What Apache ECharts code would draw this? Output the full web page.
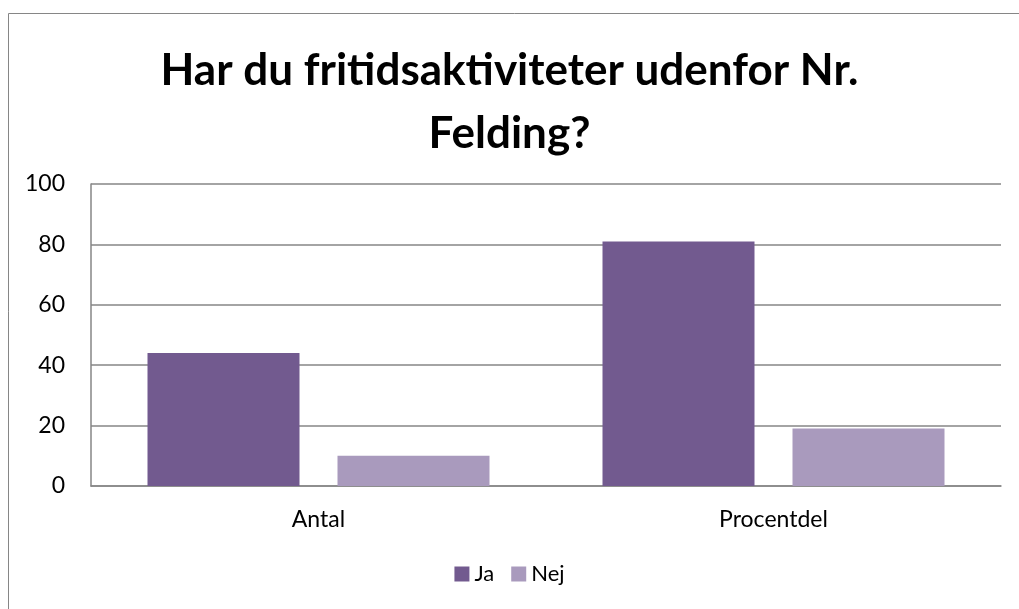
<!DOCTYPE html>
<html>
<head>
<meta charset="utf-8">
<script src="https://cdn.jsdelivr.net/npm/echarts@6/dist/echarts.min.js"></script>
<style>
  html, body { margin: 0; padding: 0; background: #fff; }
  #chart { width: 1019px; height: 609px; }
</style>
</head>
<body>
<div id="chart"></div>
<script>
// data
const categories = ['Antal', 'Procentdel']
const jaValues = [44, 81]
const nejValues = [10, 19]
const seriesNames = ['Ja', 'Nej']

const chart = echarts.init(document.getElementById('chart'))

const font = 'Lato, "Open Sans", sans-serif'

const option = {
  backgroundColor: '#fff',
  textStyle: { fontFamily: font },
  // outer chart frame
  graphic: [{
    type: 'rect',
    shape: { x: 8.5, y: 13.5, width: 1030, height: 620 },
    style: { fill: null, stroke: '#868686', lineWidth: 1 },
    silent: true
  }],
  title: {
    text: 'Har du fritidsaktiviteter udenfor Nr.\nFelding?',
    left: 'center',
    top: 34,
    textStyle: {
      fontFamily: font,
      fontWeight: 'bold',
      fontSize: 44,
      lineHeight: 63,
      color: '#000'
    }
  },
  legend: {
    data: seriesNames,
    bottom: 19,
    left: 'center',
    itemWidth: 15,
    itemHeight: 15,
    itemGap: 17,
    icon: 'rect',
    textStyle: { fontSize: 22, color: '#000', fontFamily: font }
  },
  grid: {
    left: 91,
    right: 18,
    top: 184,
    bottom: 123,
    containLabel: false
  },
  xAxis: {
    type: 'category',
    data: categories,
    axisLine: { show: true, lineStyle: { color: '#868686', width: 1.5 } },
    axisTick: { show: false },
    axisLabel: { fontSize: 23, color: '#000', margin: 22, fontFamily: font }
  },
  yAxis: {
    type: 'value',
    min: 0,
    max: 100,
    interval: 20,
    axisLine: { show: true, lineStyle: { color: '#868686', width: 1.5 } },
    axisTick: { show: false },
    axisLabel: { fontSize: 23, color: '#000', margin: 26, fontFamily: font },
    splitLine: { lineStyle: { color: '#868686', width: 1.5 } }
  },
  series: [
    {
      name: seriesNames[0],
      type: 'bar',
      data: jaValues,
      barWidth: 152,
      barGap: '25%',
      itemStyle: { color: '#725a8f' }
    },
    {
      name: seriesNames[1],
      type: 'bar',
      data: nejValues,
      barWidth: 152,
      itemStyle: { color: '#a99abd' }
    }
  ]
}

chart.setOption(option)
</script>
</body>
</html>
